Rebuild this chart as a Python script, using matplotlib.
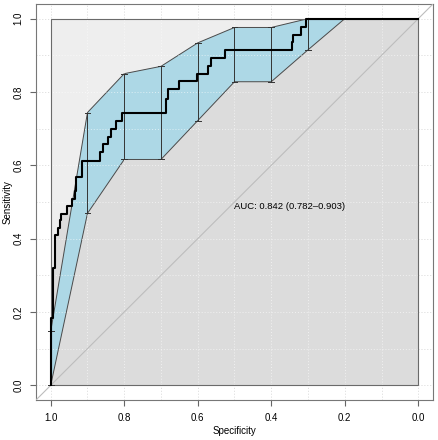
import numpy as np
import matplotlib
matplotlib.use("Agg")
from matplotlib import pyplot as plt
from matplotlib.patches import Rectangle

plt.rcParams['font.family'] = ['Liberation Sans', 'DejaVu Sans']

# ROC curve corner points (specificity, sensitivity), drawn as steps
roc_spec = [1.0, 0.994, 0.987, 0.980, 0.974, 0.971, 0.956, 0.942, 0.933, 0.930,
            0.916, 0.914, 0.866, 0.857, 0.844, 0.837, 0.823, 0.807, 0.687, 0.680,
            0.650, 0.603, 0.571, 0.565, 0.526, 0.344, 0.340, 0.318, 0.306, 0.0]
roc_sens = [0.0, 0.185, 0.32, 0.41, 0.43, 0.45, 0.468, 0.488, 0.509, 0.531,
            0.568, 0.593, 0.613, 0.636, 0.658, 0.677, 0.699, 0.722, 0.742, 0.781,
            0.807, 0.829, 0.849, 0.87, 0.892, 0.914, 0.937, 0.955, 0.976, 1.0]

# bootstrap CI of sensitivity at fixed specificities
ci_spec = [1.0, 0.9, 0.8, 0.7, 0.6, 0.5, 0.4, 0.3, 0.2, 0.1, 0.0]
ci_low = [0.0, 0.469, 0.616, 0.616, 0.722, 0.828, 0.828, 0.915, 1.0, 1.0, 1.0]
ci_high = [0.147, 0.744, 0.850, 0.870, 0.934, 0.976, 0.976, 1.0, 1.0, 1.0, 1.0]

auc_text = "AUC: 0.842 (0.782\u20130.903)"
ticks = [1.0, 0.8, 0.6, 0.4, 0.2, 0.0]
grid_at = np.round(np.arange(0, 1.01, 0.1), 1)

fig = plt.figure(figsize=(4.38, 4.40), dpi=100)
ax = fig.add_axes([36 / 438, 40 / 440, 397 / 438, 396 / 440])
ax.set_xlim(1.04, -0.04)
ax.set_ylim(-0.04, 1.04)

# grid (under everything, shows in the margins)
for g in grid_at:
    ax.axvline(g, color="#D8D8D8", lw=0.7, ls=(0, (1, 2)), zorder=0)
    ax.axhline(g, color="#D8D8D8", lw=0.7, ls=(0, (1, 2)), zorder=0)

# max auc square + auc polygon
ax.add_patch(Rectangle((0, 0), 1, 1, facecolor="#EEEEEE", edgecolor="none", zorder=1))
ax.fill_between(roc_spec, 0, roc_sens, step="pre", color="#DCDCDC", lw=0, zorder=2)

# CI shape
poly_x = ci_spec + ci_spec[::-1]
poly_y = ci_high + ci_low[::-1]
ax.fill(poly_x, poly_y, facecolor="#ADD8E6", edgecolor="#4A4A4A", lw=0.7, zorder=3)

# grid again, faint over the polygons
for g in grid_at:
    ax.plot([g, g], [0, 1], color="white", lw=0.7, ls=(0, (1, 2)), alpha=0.6, zorder=4)
    ax.plot([0, 1], [g, g], color="white", lw=0.7, ls=(0, (1, 2)), alpha=0.6, zorder=4)

ax.add_patch(Rectangle((0, 0), 1, 1, facecolor="none", edgecolor="#6A6A6A", lw=0.8, zorder=4))

# identity line
ax.axline((1, 0), (0, 1), color="#BDBDBD", lw=0.8, zorder=4)

# CI bars
cap = 0.008
for s, lo, hi in zip(ci_spec, ci_low, ci_high):
    if hi - lo < 1e-6:
        continue
    ax.plot([s, s], [lo, hi], color="#333333", lw=0.7, zorder=5)
    ax.plot([s - cap, s + cap], [lo, lo], color="#333333", lw=0.7, zorder=5)
    ax.plot([s - cap, s + cap], [hi, hi], color="#333333", lw=0.7, zorder=5)

# ROC curve
ax.plot(roc_spec, roc_sens, drawstyle="steps-pre", color="black", lw=1.5, zorder=6)

ax.text(0.5, 0.487, auc_text, ha="left", va="center", fontsize=6.8, zorder=7)

ax.set_xticks(ticks)
ax.set_xticklabels(["%.1f" % t for t in ticks])
ax.set_yticks(ticks)
ax.set_yticklabels(["%.1f" % t for t in ticks], rotation=90, va="center")
ax.tick_params(direction="out", length=4, width=0.8, color="#666666", labelsize=7, pad=5)
for sp in ax.spines.values():
    sp.set_color("#777777")
    sp.set_linewidth(0.8)
ax.set_xlabel("Specificity", fontsize=7)
ax.set_ylabel("Sensitivity", fontsize=7)
ax.xaxis.set_label_coords(0.5, -0.066)
ax.yaxis.set_label_coords(-0.06, 0.5)

fig.savefig("out.png", dpi=100)
